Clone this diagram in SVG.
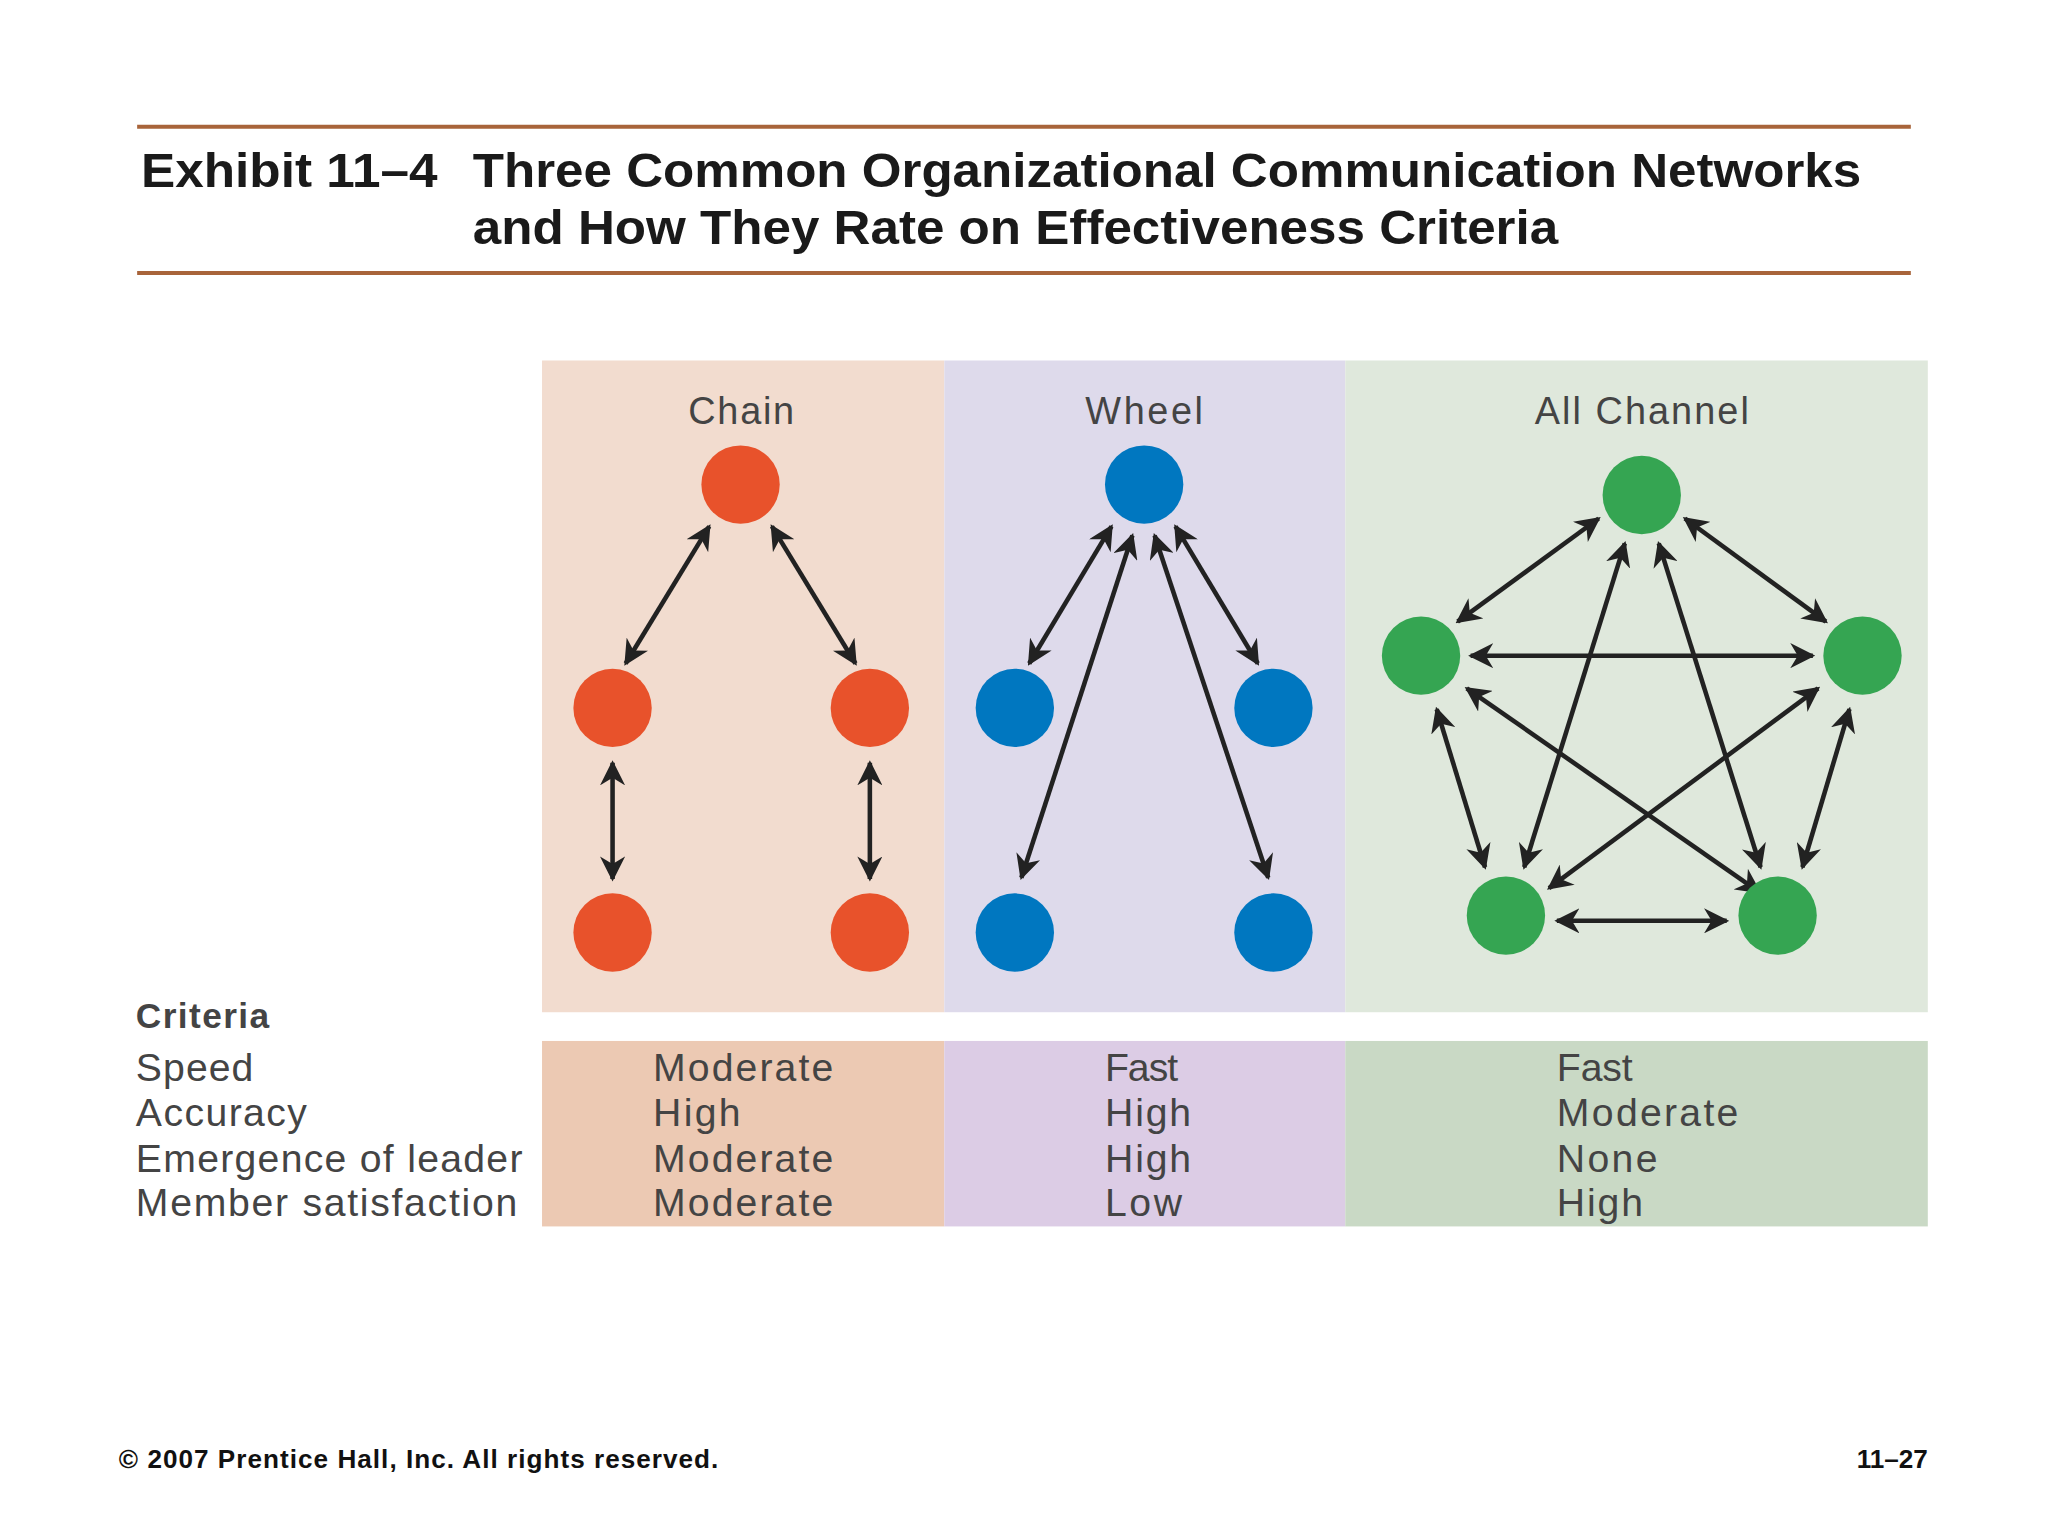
<svg xmlns="http://www.w3.org/2000/svg" width="2048" height="1536" viewBox="0 0 2048 1536">
<style>
.t{font-family:"Liberation Sans",Arial,sans-serif;font-weight:bold;font-size:37px;fill:#1a1a1a}
.l{font-family:"Liberation Sans",Arial,sans-serif;font-size:29px;fill:#444}
.c{font-family:"Liberation Sans",Arial,sans-serif;font-size:30px;fill:#444}
.f{font-family:"Liberation Sans",Arial,sans-serif;font-weight:bold;font-size:20px;fill:#111}
.a{stroke:#222;stroke-width:3.5;fill:none;marker-start:url(#h);marker-end:url(#h)}
.r{fill:#e8522b}.b{fill:#0077c0}.g{fill:#35a552}
</style>
<defs>
<marker id="h" viewBox="0 0 10 10" refX="9" refY="5" markerWidth="5.5" markerHeight="5.5" orient="auto-start-reverse" markerUnits="strokeWidth">
<path d="M0,0 L10,5 L0,10 L3,5 z" fill="#222"/>
</marker>
</defs>
<rect width="2048" height="1536" fill="#fff"/>
<g transform="scale(1.3061)">
<g id="title">
<line x1="105" y1="97" x2="1463" y2="97" stroke="#a8643a" stroke-width="3"/>
<line x1="105" y1="209" x2="1463" y2="209" stroke="#a8643a" stroke-width="3"/>
<text class="t" x="108" y="143" textLength="227" lengthAdjust="spacingAndGlyphs">Exhibit 11–4</text>
<text class="t" x="362" y="143" textLength="1063" lengthAdjust="spacingAndGlyphs">Three Common Organizational Communication Networks</text>
<text class="t" x="362" y="187" textLength="831" lengthAdjust="spacingAndGlyphs">and How They Rate on Effectiveness Criteria</text>
</g>
<g id="panels">
<rect x="415" y="276" width="308" height="499" fill="#f2dccf"/>
<rect x="723" y="276" width="307" height="499" fill="#dedaeb"/>
<rect x="1030" y="276" width="446" height="499" fill="#dfe8dc"/>
<rect x="415" y="797" width="308" height="142" fill="#ecc9b3"/>
<rect x="723" y="797" width="307" height="142" fill="#dccce5"/>
<rect x="1030" y="797" width="446" height="142" fill="#c9d9c5"/>
<text class="l" x="527" y="325" textLength="81">Chain</text>
<text class="l" x="831" y="325" textLength="90">Wheel</text>
<text class="l" x="1175" y="325" textLength="164">All Channel</text>
</g>
<g id="connectors">
<line class="a" x1="543" y1="403" x2="479" y2="508"/>
<line class="a" x1="591" y1="403" x2="655" y2="508"/>
<line class="a" x1="469" y1="584" x2="469" y2="673"/>
<line class="a" x1="666" y1="584" x2="666" y2="673"/>
<line class="a" x1="851" y1="403" x2="788" y2="508"/>
<line class="a" x1="900" y1="403" x2="963" y2="508"/>
<line class="a" x1="867" y1="410" x2="782" y2="672"/>
<line class="a" x1="884" y1="410" x2="971" y2="672"/>
<line class="a" x1="1224" y1="397" x2="1116" y2="476"/>
<line class="a" x1="1290" y1="397" x2="1398" y2="476"/>
<line class="a" x1="1126" y1="502" x2="1388" y2="502"/>
<line class="a" x1="1244" y1="416" x2="1167" y2="664"/>
<line class="a" x1="1270" y1="416" x2="1348" y2="664"/>
<line class="a" x1="1100" y1="543" x2="1137" y2="664"/>
<line class="a" x1="1416" y1="543" x2="1380" y2="664"/>
<line class="a" x1="1192" y1="705" x2="1322" y2="705"/>
<line class="a" x1="1123" y1="527" x2="1347" y2="683"/>
<line class="a" x1="1392" y1="527" x2="1186" y2="680"/>
</g>
<g id="chain-nodes">
<circle class="r" cx="567" cy="371" r="30"/><circle class="r" cx="469" cy="542" r="30"/><circle class="r" cx="666" cy="542" r="30"/><circle class="r" cx="469" cy="714" r="30"/><circle class="r" cx="666" cy="714" r="30"/>
</g>
<g id="wheel-nodes">
<circle class="b" cx="876" cy="371" r="30"/><circle class="b" cx="777" cy="542" r="30"/><circle class="b" cx="975" cy="542" r="30"/><circle class="b" cx="777" cy="714" r="30"/><circle class="b" cx="975" cy="714" r="30"/>
</g>
<g id="allchannel-nodes">
<circle class="g" cx="1257" cy="379" r="30"/><circle class="g" cx="1088" cy="502" r="30"/><circle class="g" cx="1426" cy="502" r="30"/><circle class="g" cx="1153" cy="701" r="30"/><circle class="g" cx="1361" cy="701" r="30"/>
</g>
<g id="criteria">
<text class="c" x="104" y="787" font-weight="bold" style="font-size:27px" textLength="102">Criteria</text>
<text class="c" x="104" y="828" textLength="90">Speed</text>
<text class="c" x="104" y="862" textLength="131">Accuracy</text>
<text class="c" x="104" y="897" textLength="296">Emergence of leader</text>
<text class="c" x="104" y="931" textLength="292">Member satisfaction</text>
<text class="c" x="500" y="828" textLength="138">Moderate</text><text class="c" x="500" y="862" textLength="67">High</text><text class="c" x="500" y="897" textLength="138">Moderate</text><text class="c" x="500" y="931" textLength="138">Moderate</text>
<text class="c" x="846" y="828" textLength="56">Fast</text><text class="c" x="846" y="862" textLength="66">High</text><text class="c" x="846" y="897" textLength="66">High</text><text class="c" x="846" y="931" textLength="59">Low</text>
<text class="c" x="1192" y="828" textLength="58">Fast</text><text class="c" x="1192" y="862" textLength="139">Moderate</text><text class="c" x="1192" y="897" textLength="77">None</text><text class="c" x="1192" y="931" textLength="66">High</text>
</g>
<g id="footer">
<text class="f" x="91" y="1124" textLength="459">© 2007 Prentice Hall, Inc. All rights reserved.</text>
<text class="f" x="1476" y="1124" text-anchor="end">11–27</text>
</g>
</g>
</svg>
